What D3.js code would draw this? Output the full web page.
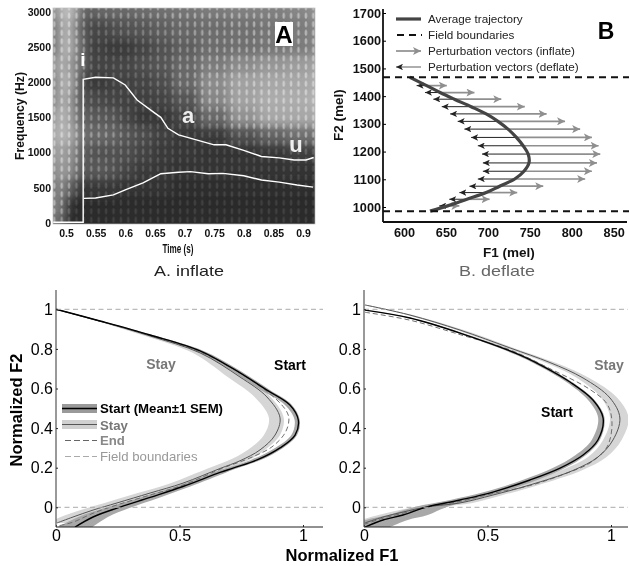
<!DOCTYPE html>
<html>
<head>
<meta charset="utf-8">
<script src="https://cdn.jsdelivr.net/npm/d3@7"></script>
<style>
  html, body { margin: 0; padding: 0; background: #fff; }
  svg { display: block; font-family: "Liberation Sans", Arial, sans-serif; filter: blur(0.3px); }
  .spec-axis text { font-weight: bold; font-size: 10.5px; fill: #111; }
  .b-axis text { font-weight: bold; font-size: 12.7px; fill: #111; }
  .n-axis text { font-size: 16px; fill: #000; }
</style>
</head>
<body>
<svg id="chart" width="629" height="566"></svg>
<script>
// panel A, spectrogram brightness read by eye (rows = Hz, columns = s)
const specTimes = [0.478, 0.49, 0.50, 0.51, 0.52, 0.53, 0.54, 0.56, 0.58, 0.60, 0.63, 0.66, 0.70, 0.75, 0.80, 0.85, 0.90, 0.92]
const specFreqs = [3050, 2750, 2500, 2250, 2000, 1750, 1500, 1250, 1000, 750, 500, 250, 0]
const specGrey = [
    [150, 175, 200, 190, 150, 115, 105, 115, 115, 115, 120, 125, 130, 135, 140, 140, 145, 155],
    [130, 160, 190, 170, 130, 100, 80, 80, 85, 90, 95, 105, 115, 120, 125, 130, 135, 145],
    [120, 165, 190, 175, 130, 110, 70, 70, 65, 65, 75, 90, 105, 120, 125, 130, 135, 145],
    [150, 180, 175, 160, 135, 110, 75, 75, 75, 75, 85, 95, 115, 135, 150, 160, 165, 170],
    [140, 170, 190, 165, 125, 70, 65, 65, 70, 70, 75, 85, 115, 150, 170, 175, 175, 180],
    [140, 175, 180, 155, 115, 90, 85, 80, 75, 70, 70, 75, 95, 145, 170, 180, 180, 185],
    [155, 190, 180, 165, 120, 110, 100, 100, 95, 75, 60, 60, 75, 115, 155, 175, 175, 175],
    [170, 190, 185, 175, 140, 120, 115, 115, 110, 95, 85, 70, 60, 65, 90, 110, 125, 125],
    [160, 170, 165, 155, 130, 100, 95, 90, 90, 85, 75, 65, 60, 55, 55, 60, 70, 70],
    [145, 165, 160, 150, 115, 100, 95, 100, 90, 75, 65, 60, 55, 55, 55, 55, 55, 55],
    [130, 150, 130, 100, 70, 60, 60, 60, 60, 55, 55, 55, 50, 50, 50, 50, 50, 50],
    [135, 140, 80, 50, 45, 45, 45, 45, 45, 45, 45, 45, 45, 45, 45, 45, 45, 45],
    [120, 120, 65, 45, 45, 45, 45, 45, 45, 45, 45, 45, 45, 45, 45, 45, 45, 45]
]
const f2Track = [[0.478, 10], [0.529, 10], [0.529, 2040], [0.55, 2070], [0.58, 2060], [0.60, 1960], [0.62, 1746], [0.65, 1560], [0.66, 1500], [0.672, 1344], [0.69, 1250], [0.72, 1180], [0.75, 1110], [0.77, 1110], [0.80, 1030], [0.83, 945], [0.86, 925], [0.885, 895], [0.905, 895], [0.918, 930]]
const f1Track = [[0.53, 350], [0.55, 355], [0.58, 400], [0.60, 470], [0.63, 570], [0.66, 700], [0.69, 720], [0.71, 730], [0.74, 700], [0.765, 705], [0.80, 670], [0.83, 610], [0.86, 580], [0.89, 540], [0.917, 510]]
const timeTicks = [0.5, 0.55, 0.6, 0.65, 0.7, 0.75, 0.8, 0.85, 0.9]
const freqTicks = [0, 500, 1000, 1500, 2000, 2500, 3000]

// panel B
const rowF2 = [1438, 1413, 1389, 1362, 1336, 1309, 1281, 1251, 1221, 1191, 1159, 1129, 1101, 1075, 1052, 1028, 1004]
const rowF1 = [627, 643, 660, 680, 698, 712, 724, 734, 742, 748, 749, 743, 732, 714, 698, 675, 652]
const inflateTip = [651, 684, 716, 744, 770, 792, 810, 824, 832, 834, 830, 824, 816, 766, 735, 702, 666]
const deflateTip = [615, 625, 635, 645, 655, 664, 672, 680, 688, 693, 694, 694, 688, 678, 666, 654, 642]
const fieldF2 = [1468, 985]
const f1Ticks = [600, 650, 700, 750, 800, 850]
const f2Ticks = [1000, 1100, 1200, 1300, 1400, 1500, 1600, 1700]

// bottom left panel, [F1, F2]
const startLeft = [[0, 1], [0.178, 0.941], [0.381, 0.87], [0.583, 0.79], [0.717, 0.70], [0.854, 0.592], [0.947, 0.517], [0.981, 0.441], [0.968, 0.365], [0.907, 0.30], [0.814, 0.239], [0.717, 0.198], [0.664, 0.176], [0.514, 0.105], [0.381, 0.05], [0.247, -0.004], [0.15, -0.049], [0.077, -0.1]]
const startLeftLo = [0.004, 0.006, 0.01, 0.015, 0.02, 0.025, 0.02, 0.015, 0.015, 0.02, 0.025, 0.025, 0.025, 0.03, 0.04, 0.05, 0.06, 0.07]
const startLeftHi = [0.004, 0.006, 0.01, 0.015, 0.015, 0.012, 0.008, 0.006, 0.008, 0.012, 0.015, 0.02, 0.025, 0.03, 0.04, 0.05, 0.06, 0.07]
const stayLeft = [[0, 1], [0.178, 0.94], [0.381, 0.865], [0.583, 0.78], [0.745, 0.658], [0.854, 0.557], [0.907, 0.452], [0.887, 0.365], [0.826, 0.29], [0.745, 0.235], [0.664, 0.196], [0.514, 0.122], [0.381, 0.072], [0.247, 0.022], [0.15, -0.014], [0.069, -0.049], [0.004, -0.079]]
const stayLeftLo = [0.005, 0.01, 0.02, 0.03, 0.05, 0.05, 0.045, 0.045, 0.05, 0.05, 0.05, 0.05, 0.05, 0.05, 0.05, 0.05, 0.03]
const stayLeftHi = [0.005, 0.01, 0.015, 0.015, 0.015, 0.015, 0.015, 0.02, 0.02, 0.03, 0.03, 0.04, 0.05, 0.06, 0.07, 0.08, 0.08]
const endLeft = [[0, 1], [0.178, 0.94], [0.381, 0.868], [0.583, 0.785], [0.745, 0.678], [0.886, 0.552], [0.935, 0.481], [0.943, 0.441], [0.927, 0.375], [0.874, 0.305], [0.785, 0.249], [0.676, 0.198], [0.514, 0.112], [0.381, 0.062], [0.247, 0.012], [0.15, -0.03], [0.069, -0.075], [0.004, -0.095]]

// bottom right panel
const startRight = [[0.004, 0.996], [0.186, 0.956], [0.389, 0.88], [0.632, 0.769], [0.725, 0.712], [0.834, 0.633], [0.927, 0.542], [0.968, 0.451], [0.947, 0.34], [0.887, 0.264], [0.794, 0.198], [0.672, 0.138], [0.522, 0.077], [0.389, 0.037], [0.255, 0.002], [0.158, -0.039], [0.077, -0.064], [0.004, -0.1]]
const startRightLo = [0.004, 0.006, 0.01, 0.015, 0.015, 0.015, 0.02, 0.02, 0.025, 0.03, 0.03, 0.03, 0.035, 0.04, 0.05, 0.06, 0.07, 0.07]
const startRightHi = [0.004, 0.006, 0.01, 0.01, 0.01, 0.008, 0.006, 0.006, 0.008, 0.012, 0.02, 0.03, 0.035, 0.05, 0.08, 0.1, 0.1, 0.1]
const stayRight = [[0.004, 1.022], [0.186, 0.971], [0.389, 0.895], [0.591, 0.805], [0.753, 0.731], [0.887, 0.653], [0.996, 0.552], [1.036, 0.451], [1.008, 0.34], [0.947, 0.254], [0.846, 0.186], [0.672, 0.113], [0.522, 0.062], [0.389, 0.022], [0.255, 0.002], [0.158, -0.024], [0.077, -0.049], [0.004, -0.079]]
const stayRightLo = [0.006, 0.01, 0.015, 0.02, 0.02, 0.025, 0.035, 0.04, 0.04, 0.04, 0.05, 0.05, 0.05, 0.05, 0.05, 0.05, 0.05, 0.05]
const stayRightHi = [0.01, 0.012, 0.015, 0.015, 0.02, 0.025, 0.03, 0.035, 0.035, 0.035, 0.035, 0.035, 0.04, 0.05, 0.06, 0.07, 0.08, 0.08]
const endRight = [[0.004, 0.985], [0.186, 0.945], [0.389, 0.872], [0.591, 0.795], [0.753, 0.70], [0.915, 0.595], [0.985, 0.52], [1.004, 0.426], [0.984, 0.305], [0.915, 0.224], [0.815, 0.17], [0.672, 0.11], [0.522, 0.07], [0.389, 0.03], [0.255, 0], [0.158, -0.03], [0.077, -0.055], [0.004, -0.085]]
const normXTicks = [0, 0.5, 1]
const normYTicks = [0, 0.2, 0.4, 0.6, 0.8, 1]

const svg = d3.select('#chart')
const defs = svg.append('defs')

const label = (text, x, y, size, weight, fill, opts = {}) => {
    const t = svg.append('text')
        .attr('x', x).attr('y', y)
        .attr('font-size', size).attr('font-weight', weight).attr('fill', fill)
        .text(text)
    if (opts.anchor) t.attr('text-anchor', opts.anchor)
    if (opts.rotate) t.attr('transform', `rotate(-90 ${x} ${y})`)
    if (opts.len) t.attr('textLength', opts.len).attr('lengthAdjust', 'spacingAndGlyphs')
    return t
}

// ---- panel A ----
const tScale = d3.scaleLinear().domain([0.5, 0.9]).range([66, 303])
const hzScale = d3.scaleLinear().domain([0, 3000]).range([223, 11.7])
const specLeft = 53, specRight = 315, specTop = 8, specBottom = 224

defs.append('clipPath').attr('id', 'specClip').append('rect')
    .attr('x', specLeft).attr('y', specTop)
    .attr('width', specRight - specLeft).attr('height', specBottom - specTop)
const blur = defs.append('filter').attr('id', 'specBlur')
    .attr('x', -0.1).attr('y', -0.1).attr('width', 1.2).attr('height', 1.2)
blur.append('feGaussianBlur').attr('stdDeviation', 4)
const softDots = defs.append('filter').attr('id', 'dotBlur')
softDots.append('feGaussianBlur').attr('stdDeviation', 0.6)

// texture for the glottal pulses
const pulseW = 7.4, pulseH = 8.5
const pulses = defs.append('pattern').attr('id', 'pulses')
    .attr('patternUnits', 'userSpaceOnUse')
    .attr('x', 58).attr('y', 3)
    .attr('width', pulseW).attr('height', pulseH)
pulses.append('rect').attr('width', pulseW).attr('height', pulseH).attr('fill', '#000').attr('fill-opacity', 0.1)
pulses.append('ellipse').attr('cx', pulseW / 2).attr('cy', pulseH / 2)
    .attr('rx', 1.3).attr('ry', pulseH * 0.36)
    .attr('fill', '#fff').attr('fill-opacity', 0.42)

const specG = svg.append('g').attr('clip-path', 'url(#specClip)')
const cellEdge = (arr, i) => {
    const lo = i === 0 ? arr[0] - (arr[1] - arr[0]) : (arr[i - 1] + arr[i]) / 2
    const hi = i === arr.length - 1 ? arr[i] + (arr[i] - arr[i - 1]) : (arr[i] + arr[i + 1]) / 2
    return [lo, hi]
}
const cells = specFreqs.flatMap((f, r) => specTimes.map((t, c) => ({ r, c, v: specGrey[r][c] })))
const specBase = specG.append('g').attr('filter', 'url(#specBlur)')
specBase.selectAll('rect')
    .data(cells)
    .enter()
    .append('rect')
    .attr('x', d => tScale(cellEdge(specTimes, d.c)[0]))
    .attr('width', d => tScale(cellEdge(specTimes, d.c)[1]) - tScale(cellEdge(specTimes, d.c)[0]) + 0.5)
    .attr('y', d => hzScale(cellEdge(specFreqs, d.r)[0]))
    .attr('height', d => hzScale(cellEdge(specFreqs, d.r)[1]) - hzScale(cellEdge(specFreqs, d.r)[0]) + 0.5)
    .attr('fill', d => d3.rgb(d.v, d.v, d.v))
specG.append('rect')
    .attr('x', specLeft - 5).attr('y', specTop - 5)
    .attr('width', specRight - specLeft + 10).attr('height', specBottom - specTop + 10)
    .attr('fill', 'url(#pulses)')
    .attr('filter', 'url(#dotBlur)')
    .style('mix-blend-mode', 'overlay')

const trackLine = d3.line().x(d => tScale(d[0])).y(d => hzScale(d[1]))
specG.selectAll('.track')
    .data([f2Track, f1Track])
    .enter()
    .append('path')
    .attr('d', trackLine)
    .attr('fill', 'none')
    .attr('stroke', '#fff')
    .attr('stroke-width', 1.4)

svg.append('rect')
    .attr('x', specLeft).attr('y', specTop)
    .attr('width', specRight - specLeft).attr('height', specBottom - specTop)
    .attr('fill', 'none').attr('stroke', '#bbb').attr('stroke-width', 0.7)

svg.append('g').attr('class', 'spec-axis')
    .attr('transform', `translate(0,${specBottom})`)
    .call(d3.axisBottom(tScale).tickValues(timeTicks).tickFormat(d3.format('')).tickSize(0).tickPadding(6))
    .call(g => g.select('.domain').remove())
svg.append('g').attr('class', 'spec-axis')
    .attr('transform', `translate(${specLeft},0)`)
    .call(d3.axisLeft(hzScale).tickValues(freqTicks).tickFormat(d3.format('d')).tickSize(0).tickPadding(2))
    .call(g => g.select('.domain').remove())

label('Time (s)', 178, 253, 13, 'bold', '#111', { anchor: 'middle', len: 31 })
label('Frequency (Hz)', 24, 116, 13, 'bold', '#111', { anchor: 'middle', rotate: true, len: 88 })
label('A. inflate', 189, 276, 15, 'normal', '#222', { anchor: 'middle', len: 70 })

svg.append('rect').attr('x', 275).attr('y', 22).attr('width', 18).attr('height', 24).attr('fill', '#fff')
label('A', 284, 43, 24, 'bold', '#000', { anchor: 'middle' })
label('i', 83, 66, 19, 'bold', '#fff', { anchor: 'middle' })
label('a', 188, 123, 22, 'bold', '#eee', { anchor: 'middle' })
label('u', 296, 152, 22, 'bold', '#eee', { anchor: 'middle' })

// ---- panel B ----
const f1Scale = d3.scaleLinear().domain([600, 850]).range([404, 613.7])
const f2Scale = d3.scaleLinear().domain([1000, 1700]).range([207, 13])
const bAxisX = 383, bAxisY = 222

const arrowHead = (id, color, length, width) => {
    defs.append('marker').attr('id', id)
        .attr('markerUnits', 'userSpaceOnUse')
        .attr('viewBox', `0 ${-width / 2} ${length} ${width}`)
        .attr('refX', length).attr('refY', 0)
        .attr('markerWidth', length).attr('markerHeight', width)
        .attr('orient', 'auto')
        .append('path')
        .attr('d', `M0,${-width / 2}L${length},0L0,${width / 2}L${length * 0.25},0Z`)
        .attr('fill', color)
}
arrowHead('headInflate', '#8f8f8f', 8, 8)
arrowHead('headDeflate', '#222', 7, 6.5)

const rows = rowF2.map((f2, i) => ({ f2, f1: rowF1[i], up: inflateTip[i], down: deflateTip[i] }))
const gArrows = svg.append('g')
gArrows.selectAll('.inflate')
    .data(rows)
    .enter()
    .append('line')
    .attr('x1', d => f1Scale(d.f1)).attr('x2', d => f1Scale(d.up))
    .attr('y1', d => f2Scale(d.f2)).attr('y2', d => f2Scale(d.f2))
    .attr('stroke', '#8f8f8f').attr('stroke-width', 1.7)
    .attr('marker-end', 'url(#headInflate)')
gArrows.selectAll('.deflate')
    .data(rows)
    .enter()
    .append('line')
    .attr('x1', d => f1Scale(d.f1)).attr('x2', d => f1Scale(d.down))
    .attr('y1', d => f2Scale(d.f2)).attr('y2', d => f2Scale(d.f2))
    .attr('stroke', '#222').attr('stroke-width', 1)
    .attr('marker-end', 'url(#headDeflate)')

const trajectory = [[607, fieldF2[0]]].concat(rows.map(d => [d.f1, d.f2]), [[631, fieldF2[1]]])
svg.append('path')
    .attr('d', d3.line().x(d => f1Scale(d[0])).y(d => f2Scale(d[1])).curve(d3.curveCatmullRom)(trajectory))
    .attr('fill', 'none').attr('stroke', '#444').attr('stroke-width', 3.2)

svg.selectAll('.field-b')
    .data(fieldF2)
    .enter()
    .append('line')
    .attr('x1', bAxisX).attr('x2', 629)
    .attr('y1', d => f2Scale(d)).attr('y2', d => f2Scale(d))
    .attr('stroke', '#111').attr('stroke-width', 2).attr('stroke-dasharray', '7 5')

svg.append('g').attr('class', 'b-axis')
    .attr('transform', `translate(0,${bAxisY})`)
    .call(d3.axisBottom(f1Scale).tickValues(f1Ticks).tickSize(0).tickPadding(6))
    .call(g => g.selectAll('line').remove())
    .call(g => g.select('.domain').attr('d', `M${bAxisX},0H627`).attr('stroke', '#111').attr('stroke-width', 1.8))
svg.append('g').attr('class', 'b-axis')
    .attr('transform', `translate(${bAxisX},0)`)
    .call(d3.axisLeft(f2Scale).tickValues(f2Ticks).tickFormat(d3.format('d')).tickSize(-3).tickPadding(2))
    .call(g => g.select('.domain').attr('d', `M0,9V${bAxisY}`).attr('stroke', '#111').attr('stroke-width', 1.8))

label('F1 (mel)', 509, 257, 13.5, 'bold', '#111', { anchor: 'middle' })
label('F2 (mel)', 343, 115, 13.5, 'bold', '#111', { anchor: 'middle', rotate: true })
label('B. deflate', 497, 276, 15, 'normal', '#666', { anchor: 'middle', len: 76 })
label('B', 606, 39, 23, 'bold', '#000', { anchor: 'middle' })

const legendB = [
    { name: 'Average trajectory', y: 19 },
    { name: 'Field boundaries', y: 35 },
    { name: 'Perturbation vectors (inflate)', y: 51 },
    { name: 'Perturbation vectors (deflate)', y: 67 }
]
legendB.forEach(d => label(d.name, 428, d.y + 4, 11.7, 'normal', '#222'))
svg.append('line').attr('x1', 396).attr('x2', 421).attr('y1', 19).attr('y2', 19).attr('stroke', '#444').attr('stroke-width', 3.2)
svg.append('line').attr('x1', 397).attr('x2', 422).attr('y1', 35).attr('y2', 35).attr('stroke', '#111').attr('stroke-width', 2).attr('stroke-dasharray', '7 5')
svg.append('line').attr('x1', 396).attr('x2', 421).attr('y1', 51).attr('y2', 51).attr('stroke', '#8f8f8f').attr('stroke-width', 1.7).attr('marker-end', 'url(#headInflate)')
svg.append('line').attr('x1', 421).attr('x2', 396).attr('y1', 67).attr('y2', 67).attr('stroke', '#777').attr('stroke-width', 1.2).attr('marker-end', 'url(#headDeflate)')

// ---- bottom panels ----
const normY = d3.scaleLinear().domain([0, 1]).range([507.3, 309.3])

function drawNorm(id, x0, xEnd, curves) {
    const normX = d3.scaleLinear().domain([0, 1]).range([x0, x0 + 247])
    const g = svg.append('g')

    defs.append('clipPath').attr('id', id).append('rect')
        .attr('x', x0).attr('y', 290).attr('width', xEnd - x0).attr('height', 237)
    const plot = g.append('g').attr('clip-path', `url(#${id})`)

    const band = (pts, lo, hi) => d3.area()
        .y((d, i) => normY(pts[i][1]))
        .x0((d, i) => normX(pts[i][0] - lo[i]))
        .x1((d, i) => normX(pts[i][0] + hi[i]))
        .curve(d3.curveCatmullRom)(pts)
    const curve = d3.line().x(d => normX(d[0])).y(d => normY(d[1])).curve(d3.curveCatmullRom)

    plot.append('path').attr('d', band(curves.stay, curves.stayLo, curves.stayHi)).attr('fill', '#d6d6d6')
    plot.append('path').attr('d', band(curves.start, curves.startLo, curves.startHi)).attr('fill', '#a8a8a8')
    plot.append('path').attr('d', curve(curves.end))
        .attr('fill', 'none').attr('stroke', '#6e6e6e').attr('stroke-width', 1).attr('stroke-dasharray', '5 3')
    plot.append('path').attr('d', curve(curves.stay))
        .attr('fill', 'none').attr('stroke', '#555').attr('stroke-width', 1)
    plot.append('path').attr('d', curve(curves.start))
        .attr('fill', 'none').attr('stroke', '#000').attr('stroke-width', 1.4)

    g.selectAll('.field')
        .data([0, 1])
        .enter()
        .append('line')
        .attr('x1', x0).attr('x2', xEnd)
        .attr('y1', d => normY(d)).attr('y2', d => normY(d))
        .attr('stroke', '#aaa').attr('stroke-width', 1).attr('stroke-dasharray', '5 3.5')

    g.append('g').attr('class', 'n-axis')
        .attr('transform', 'translate(0,527)')
        .call(d3.axisBottom(normX).tickValues(normXTicks).tickFormat(d3.format('')).tickSize(-2).tickPadding(3))
        .call(a => a.select('.domain').attr('d', `M${x0},0H${xEnd}`).attr('stroke', '#222').attr('stroke-width', 1))
        .call(a => a.selectAll('.tick line').attr('stroke', '#222'))
    g.append('g').attr('class', 'n-axis')
        .attr('transform', `translate(${x0},0)`)
        .call(d3.axisLeft(normY).tickValues(normYTicks).tickFormat(d3.format('')).tickSize(-2).tickPadding(3))
        .call(a => a.select('.domain').attr('d', 'M0,290V527').attr('stroke', '#555').attr('stroke-width', 1.2))
        .call(a => a.selectAll('.tick line').attr('stroke', '#222'))
}

drawNorm('clipLeft', 56, 323, { start: startLeft, startLo: startLeftLo, startHi: startLeftHi, stay: stayLeft, stayLo: stayLeftLo, stayHi: stayLeftHi, end: endLeft })
drawNorm('clipRight', 364, 628, { start: startRight, startLo: startRightLo, startHi: startRightHi, stay: stayRight, stayLo: stayRightLo, stayHi: stayRightHi, end: endRight })

label('Normalized F2', 22, 410, 16.5, 'bold', '#000', { anchor: 'middle', rotate: true })
label('Normalized F1', 342, 561, 16.5, 'bold', '#000', { anchor: 'middle' })
label('Stay', 161, 369, 14, 'bold', '#777', { anchor: 'middle' })
label('Start', 290, 370, 14, 'bold', '#000', { anchor: 'middle' })
label('Stay', 609, 370, 14, 'bold', '#777', { anchor: 'middle' })
label('Start', 557, 417, 14, 'bold', '#000', { anchor: 'middle' })

// legend of the left panel
const legX0 = 62, legX1 = 97
svg.append('rect').attr('x', legX0).attr('y', 404).attr('width', legX1 - legX0).attr('height', 9).attr('fill', '#9a9a9a')
svg.append('line').attr('x1', legX0).attr('x2', legX1).attr('y1', 408.5).attr('y2', 408.5).attr('stroke', '#000').attr('stroke-width', 1.5)
svg.append('rect').attr('x', legX0).attr('y', 420).attr('width', legX1 - legX0).attr('height', 9).attr('fill', '#d0d0d0')
svg.append('line').attr('x1', legX0).attr('x2', legX1).attr('y1', 424.5).attr('y2', 424.5).attr('stroke', '#555').attr('stroke-width', 1.2)
svg.append('line').attr('x1', 65).attr('x2', 97).attr('y1', 440.5).attr('y2', 440.5).attr('stroke', '#666').attr('stroke-width', 1.2).attr('stroke-dasharray', '6 3')
svg.append('line').attr('x1', 65).attr('x2', 97).attr('y1', 456.5).attr('y2', 456.5).attr('stroke', '#aaa').attr('stroke-width', 1).attr('stroke-dasharray', '6 3')
label('Start (Mean\u00b11 SEM)', 100, 413, 13.2, 'bold', '#000')
label('Stay', 100, 430, 13.2, 'bold', '#777')
label('End', 100, 445, 13.2, 'bold', '#888')
label('Field boundaries', 100, 461, 13.2, 'normal', '#999')
</script>
</body>
</html>
